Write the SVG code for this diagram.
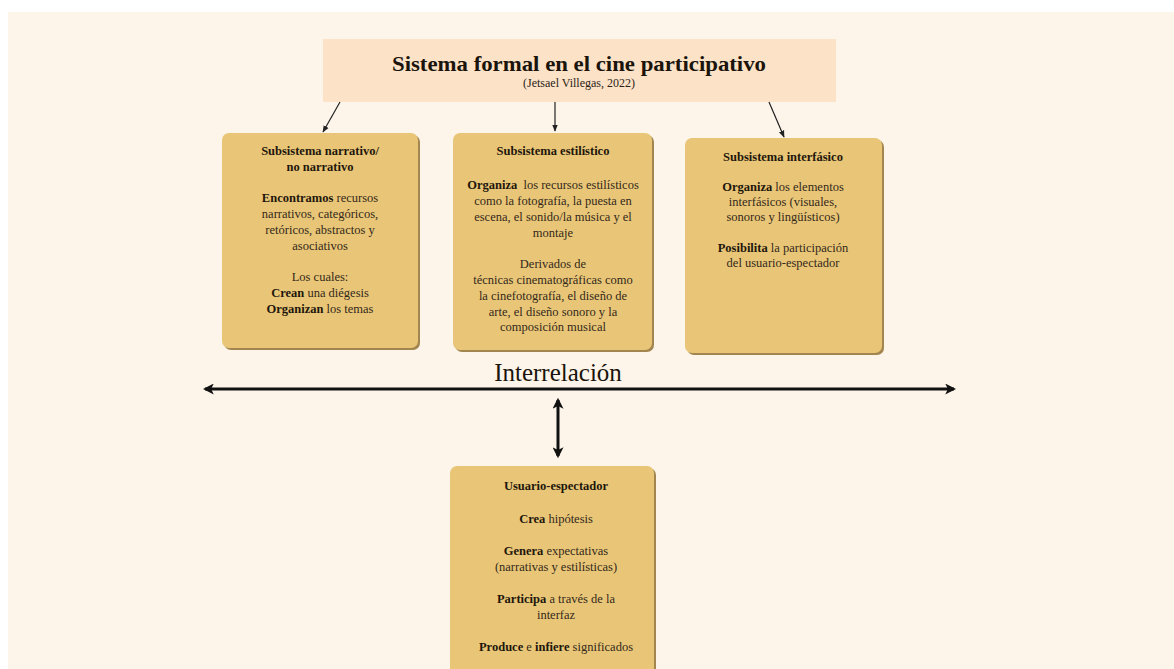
<svg xmlns="http://www.w3.org/2000/svg" width="1174" height="669" viewBox="0 0 1174 669">
<defs>
<style>
.box{fill:#e9c677}
.sh{fill:#a3864f}
.t{font-family:"Liberation Serif","Times New Roman",serif;font-size:12.5px;fill:#33281a;text-anchor:middle}
.b{font-weight:bold;fill:#1f170c}
.thin{stroke:#222;stroke-width:1.2;fill:none}
.thick{stroke:#111;stroke-width:3;fill:none}
</style>
<marker id="ah" viewBox="0 0 10 10" refX="9" refY="5" markerWidth="7" markerHeight="7" orient="auto-start-reverse" markerUnits="userSpaceOnUse">
<path d="M0,1 L10,5 L0,9 z" fill="#222"/>
</marker>
<marker id="ahb" viewBox="0 0 10 10" refX="8" refY="5" markerWidth="11" markerHeight="11" orient="auto-start-reverse" markerUnits="userSpaceOnUse">
<path d="M0,0 L10,5 L0,10 L2.5,5 z" fill="#111"/>
</marker>
</defs>
<rect x="0" y="0" width="1174" height="669" fill="#ffffff"/>
<rect x="8" y="12" width="1166" height="657" fill="#fdf5e9"/>

<g id="title">
<rect x="323" y="39" width="513" height="63" fill="#fce2c6"/>
<text x="579" y="71" font-family="Liberation Serif, serif" font-size="22" font-weight="bold" fill="#1a140c" text-anchor="middle" textLength="374" lengthAdjust="spacingAndGlyphs">Sistema formal en el cine participativo</text>
<text x="579" y="87" font-family="Liberation Serif, serif" font-size="12" fill="#2a2218" text-anchor="middle">(Jetsael Villegas, 2022)</text>
</g>

<g id="connectors">
<line class="thin" x1="340" y1="102" x2="323" y2="132" marker-end="url(#ah)"/>
<line class="thin" x1="555" y1="102" x2="555" y2="131" marker-end="url(#ah)"/>
<line class="thin" x1="769" y1="102" x2="784" y2="137" marker-end="url(#ah)"/>
<line class="thick" x1="205" y1="389" x2="954" y2="389" marker-start="url(#ahb)" marker-end="url(#ahb)"/>
<line class="thick" x1="558" y1="400" x2="558" y2="456" marker-start="url(#ahb)" marker-end="url(#ahb)"/>
<text x="558" y="381" font-family="Liberation Serif, serif" font-size="25" fill="#1a140c" text-anchor="middle">Interrelación</text>
</g>

<g id="narrativo">
<rect class="sh" x="224" y="135" width="196" height="215" rx="7"/>
<rect class="box" x="222" y="133" width="196" height="215" rx="7"/>
<text class="t b" x="320" y="155">Subsistema narrativo/</text>
<text class="t b" x="320" y="171">no narrativo</text>
<text class="t" x="320" y="202"><tspan class="b">Encontramos</tspan> recursos</text>
<text class="t" x="320" y="218">narrativos, categóricos,</text>
<text class="t" x="320" y="234">retóricos, abstractos y</text>
<text class="t" x="320" y="250">asociativos</text>
<text class="t" x="320" y="281">Los cuales:</text>
<text class="t" x="320" y="297"><tspan class="b">Crean</tspan> una diégesis</text>
<text class="t" x="320" y="313"><tspan class="b">Organizan</tspan> los temas</text>
</g>

<g id="estilistico">
<rect class="sh" x="455" y="135" width="199" height="217" rx="7"/>
<rect class="box" x="453" y="133" width="199" height="217" rx="7"/>
<text class="t b" x="553" y="155">Subsistema estilístico</text>
<text class="t" x="553" y="189" xml:space="preserve"><tspan class="b">Organiza</tspan>  los recursos estilísticos</text>
<text class="t" x="553" y="205">como la fotografía, la puesta en</text>
<text class="t" x="553" y="221">escena, el sonido/la música y el</text>
<text class="t" x="553" y="237">montaje</text>
<text class="t" x="553" y="268">Derivados de</text>
<text class="t" x="553" y="284">técnicas cinematográficas como</text>
<text class="t" x="553" y="300">la cinefotografía, el diseño de</text>
<text class="t" x="553" y="316">arte, el diseño sonoro y la</text>
<text class="t" x="553" y="331">composición musical</text>
</g>

<g id="interfasico">
<rect class="sh" x="687" y="140" width="197" height="215" rx="7"/>
<rect class="box" x="685" y="138" width="197" height="215" rx="7"/>
<text class="t b" x="783" y="161">Subsistema interfásico</text>
<text class="t" x="783" y="191"><tspan class="b">Organiza</tspan> los elementos</text>
<text class="t" x="783" y="206">interfásicos (visuales,</text>
<text class="t" x="783" y="221">sonoros y lingüísticos)</text>
<text class="t" x="783" y="252"><tspan class="b">Posibilita</tspan> la participación</text>
<text class="t" x="783" y="267">del usuario-espectador</text>
</g>

<g id="usuario">
<rect class="sh" x="452" y="468" width="204" height="215" rx="7"/>
<rect class="box" x="450" y="466" width="204" height="215" rx="7"/>
<text class="t b" x="556" y="490">Usuario-espectador</text>
<text class="t" x="556" y="523"><tspan class="b">Crea</tspan> hipótesis</text>
<text class="t" x="556" y="555"><tspan class="b">Genera</tspan> expectativas</text>
<text class="t" x="556" y="571">(narrativas y estilísticas)</text>
<text class="t" x="556" y="603"><tspan class="b">Participa</tspan> a través de la</text>
<text class="t" x="556" y="619">interfaz</text>
<text class="t" x="556" y="651"><tspan class="b">Produce</tspan> e <tspan class="b">infiere</tspan> significados</text>
</g>
</svg>
